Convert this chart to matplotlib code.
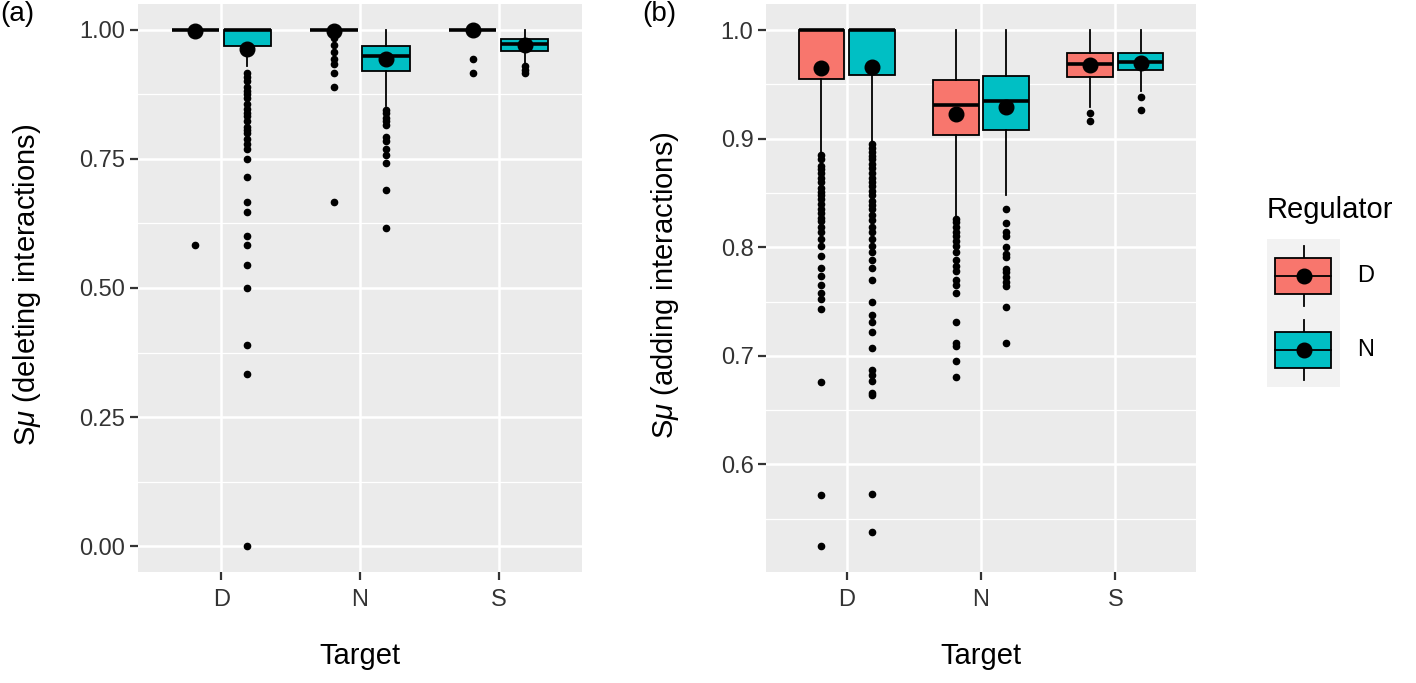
import numpy as np
import matplotlib
matplotlib.use('Agg')
import matplotlib.pyplot as plt
from matplotlib.patches import Rectangle

plt.rcParams['font.family'] = ['Liberation Sans', 'DejaVu Sans']
plt.rcParams['mathtext.fontset'] = 'custom'
plt.rcParams['mathtext.it'] = 'Liberation Sans:italic'
plt.rcParams['mathtext.rm'] = 'Liberation Sans'

targets = ['D', 'N', 'S']
regulators = ['D', 'N']
colors = {'D': '#F8766D', 'N': '#00BFC4'}

# (a) deleting interactions -- per regulator, values for target D, N, S
del_q1 = {'D': [1.0, 1.0, 1.0], 'N': [0.969, 0.921, 0.959]}
del_med = {'D': [1.0, 1.0, 1.0], 'N': [1.0, 0.949, 0.972]}
del_q3 = {'D': [1.0, 1.0, 1.0], 'N': [1.0, 0.968, 0.983]}
del_lo = {'D': [1.0, 1.0, 1.0], 'N': [0.929, 0.852, 0.935]}
del_hi = {'D': [1.0, 1.0, 1.0], 'N': [1.0, 1.0, 1.0]}
del_mean = {'D': [0.998, 0.997, 0.999], 'N': [0.962, 0.943, 0.970]}
del_out = {
    'D': [[0.583],
          [0.985, 0.971, 0.957, 0.944, 0.933, 0.917, 0.889, 0.667],
          [0.944, 0.917]],
    'N': [[0.917, 0.909, 0.900, 0.889, 0.882, 0.875, 0.867, 0.857, 0.846, 0.839,
           0.833, 0.824, 0.812, 0.806, 0.800, 0.789, 0.778, 0.769, 0.750, 0.714,
           0.667, 0.647, 0.600, 0.583, 0.545, 0.500, 0.389, 0.333, 0.0],
          [0.844, 0.838, 0.830, 0.823, 0.815, 0.792, 0.785, 0.770, 0.758, 0.743,
           0.689, 0.617],
          [0.929, 0.923, 0.917]],
}

# (b) adding interactions
add_q1 = {'D': [0.955, 0.903, 0.957], 'N': [0.959, 0.908, 0.963]}
add_med = {'D': [1.0, 0.931, 0.969], 'N': [1.0, 0.935, 0.971]}
add_q3 = {'D': [1.0, 0.954, 0.979], 'N': [1.0, 0.958, 0.979]}
add_lo = {'D': [0.888, 0.829, 0.929], 'N': [0.897, 0.848, 0.944]}
add_hi = {'D': [1.0, 1.0, 1.0], 'N': [1.0, 1.0, 1.0]}
add_mean = {'D': [0.965, 0.923, 0.968], 'N': [0.966, 0.929, 0.970]}
add_out = {
    'D': [[0.885, 0.881, 0.875, 0.872, 0.868, 0.864, 0.860, 0.855, 0.851, 0.848,
           0.844, 0.840, 0.835, 0.832, 0.827, 0.824, 0.819, 0.814, 0.808, 0.801,
           0.792, 0.781, 0.774, 0.765, 0.758, 0.752, 0.743, 0.676, 0.572, 0.525],
          [0.826, 0.823, 0.819, 0.814, 0.810, 0.806, 0.801, 0.796, 0.788, 0.783,
           0.778, 0.770, 0.765, 0.758, 0.731, 0.712, 0.709, 0.695, 0.681],
          [0.924, 0.916]],
    'N': [[0.895, 0.891, 0.888, 0.884, 0.881, 0.877, 0.873, 0.868, 0.864, 0.860,
           0.856, 0.852, 0.848, 0.843, 0.839, 0.835, 0.830, 0.825, 0.819, 0.814,
           0.808, 0.801, 0.796, 0.788, 0.781, 0.770, 0.750, 0.738, 0.731, 0.722,
           0.707, 0.687, 0.682, 0.677, 0.666, 0.664, 0.573, 0.538],
          [0.835, 0.822, 0.814, 0.810, 0.800, 0.794, 0.791, 0.780, 0.777, 0.773,
           0.768, 0.764, 0.745, 0.712],
          [0.938, 0.926]],
}

W, H = 1416, 683
fig = plt.figure(figsize=(W / 100, H / 100), dpi=100)


def draw_panel(ax, q1, med, q3, lo, hi, mean, out):
    for j, reg in enumerate(regulators):
        pos = np.arange(1, 4) + (-0.1875 if j == 0 else 0.1875)
        stats = []
        for i in range(3):
            stats.append(dict(q1=q1[reg][i], med=med[reg][i], q3=q3[reg][i],
                              whislo=lo[reg][i], whishi=hi[reg][i],
                              fliers=out[reg][i]))
        ax.bxp(stats, positions=pos, widths=0.34, patch_artist=True,
               showcaps=False, showfliers=True,
               boxprops=dict(facecolor=colors[reg], edgecolor='black', linewidth=1.3),
               medianprops=dict(color='black', linewidth=2.6, solid_capstyle='butt'),
               whiskerprops=dict(color='black', linewidth=1.3),
               flierprops=dict(marker='o', markerfacecolor='black',
                               markeredgecolor='black', markersize=4.5),
               zorder=3)
        ax.plot(pos, mean[reg], 'o', color='black', markersize=10.5, zorder=5)
    ax.set_xlim(0.4, 3.6)
    ax.set_xticks([1, 2, 3])
    ax.set_xticklabels(targets)
    ax.set_facecolor('#EBEBEB')
    for s in ax.spines.values():
        s.set_visible(False)
    ax.grid(True, which='major', color='white', linewidth=1.8)
    ax.grid(True, which='minor', axis='y', color='white', linewidth=0.9)
    ax.set_axisbelow(True)
    ax.tick_params(axis='both', which='major', length=6, width=1.6,
                   color='#333333', labelsize=17, labelcolor='#333333', pad=3)
    ax.tick_params(axis='x', which='major', pad=6)
    ax.tick_params(which='minor', length=0)


ax1 = fig.add_axes([138 / W, 1 - 572 / H, 444 / W, 568 / H])
draw_panel(ax1, del_q1, del_med, del_q3, del_lo, del_hi, del_mean, del_out)
ax1.set_ylim(-0.05, 1.05)
ax1.set_yticks([0, 0.25, 0.5, 0.75, 1.0])
ax1.set_yticklabels(['0.00', '0.25', '0.50', '0.75', '1.00'])
ax1.set_yticks([0.125, 0.375, 0.625, 0.875], minor=True)

ax2 = fig.add_axes([766 / W, 1 - 572 / H, 430 / W, 568 / H])
draw_panel(ax2, add_q1, add_med, add_q3, add_lo, add_hi, add_mean, add_out)
ax2.set_ylim(0.501, 1.024)
ax2.set_yticks([0.6, 0.7, 0.8, 0.9, 1.0])
ax2.set_yticklabels(['0.6', '0.7', '0.8', '0.9', '1.0'])
ax2.set_yticks([0.55, 0.65, 0.75, 0.85, 0.95], minor=True)

# axis titles
fig.text(27 / W, 1 - 285 / H, r'S$\mu$ (deleting interactions)', fontsize=21,
         rotation=90, ha='center', va='center')
fig.text(665 / W, 1 - 285 / H, r'S$\mu$ (adding interactions)', fontsize=21,
         rotation=90, ha='center', va='center')
fig.text(360 / W, 1 - 664 / H, 'Target', fontsize=21, ha='center', va='baseline')
fig.text(981 / W, 1 - 664 / H, 'Target', fontsize=21, ha='center', va='baseline')
fig.text(0 / W, 1 - 1 / H, '(a)', fontsize=20, ha='left', va='top')
fig.text(642 / W, 1 - 1 / H, '(b)', fontsize=20, ha='left', va='top')

# legend
fig.text(1267 / W, 1 - 218 / H, 'Regulator', fontsize=21, ha='left', va='baseline')
lg = fig.add_axes([1267 / W, 1 - 387 / H, 73 / W, 148 / H])
lg.set_xlim(0, 73)
lg.set_ylim(148, 0)
lg.set_facecolor('#F2F2F2')
lg.set_xticks([])
lg.set_yticks([])
for s in lg.spines.values():
    s.set_visible(False)
for k, reg in enumerate(regulators):
    cy = 37 + k * 74
    lg.plot([36.5, 36.5], [cy - 30, cy + 30], color='black', lw=1.3, zorder=1)
    lg.add_patch(Rectangle((8, cy - 18), 56, 36, facecolor=colors[reg],
                           edgecolor='black', lw=1.3, zorder=2))
    lg.plot([8, 64], [cy, cy], color='black', lw=1.3, zorder=3)
    lg.plot([36.5], [cy], 'o', color='black', markersize=10.5, zorder=4)
    fig.text(1357 / W, 1 - (276 + k * 74) / H, reg, fontsize=17, ha='left', va='center')

fig.savefig('out.png', dpi=100)
